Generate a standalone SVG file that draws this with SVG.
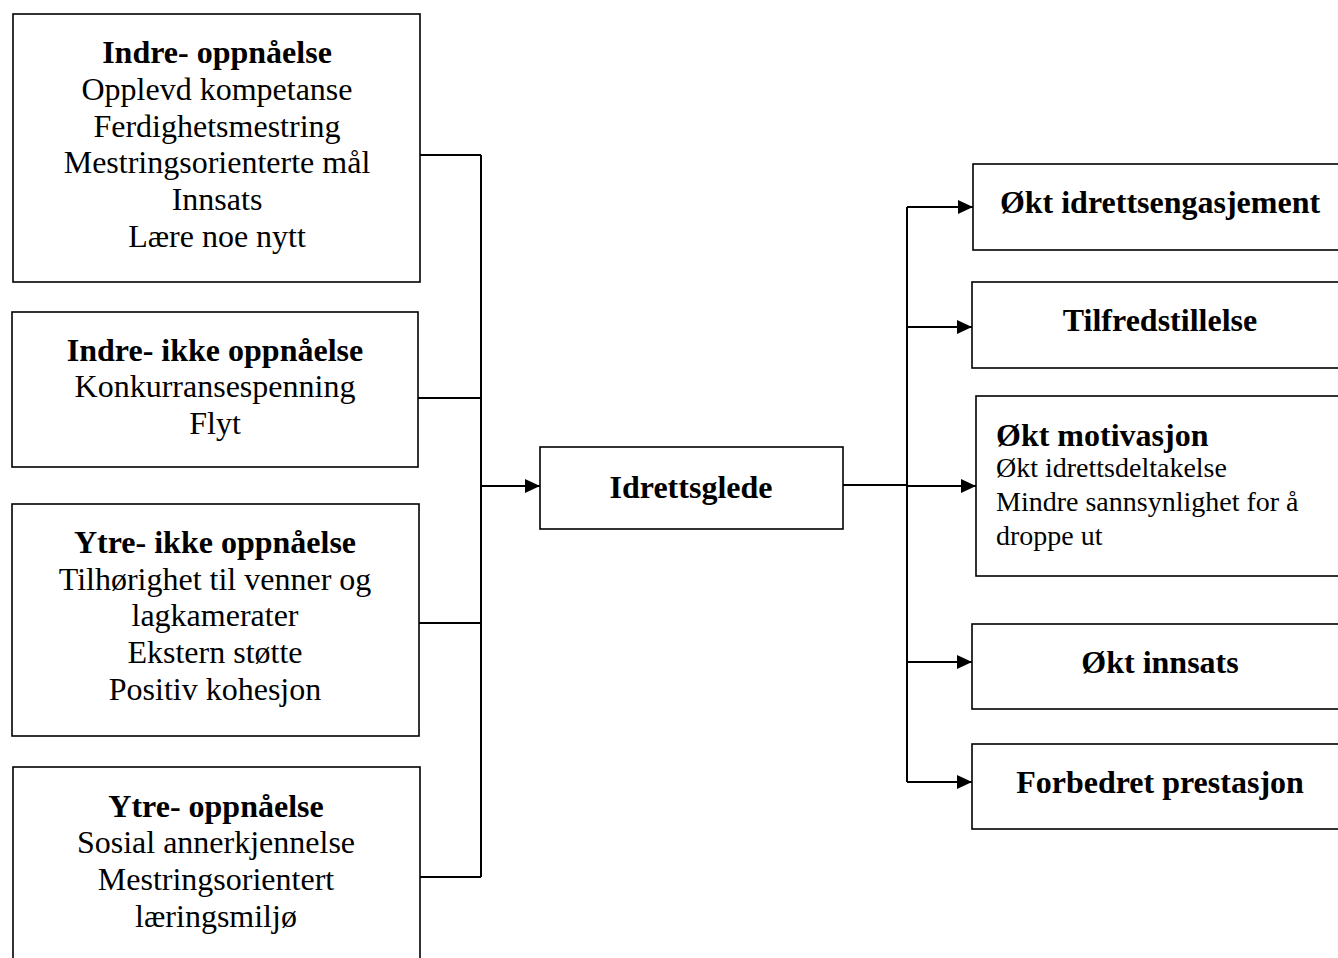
<svg xmlns="http://www.w3.org/2000/svg" width="1338" height="958" viewBox="0 0 1338 958">
<defs>
<style>
.box{fill:#fff;stroke:#000;stroke-width:1.6}
.t{font-family:"Liberation Serif","Times New Roman",serif;font-size:32px;fill:#000}
.b{font-weight:bold}
.c{text-anchor:middle}
.s{font-size:28px}
.ln{fill:none;stroke:#000;stroke-width:2}
</style>
<marker id="arr" markerUnits="userSpaceOnUse" markerWidth="15" markerHeight="14" refX="15" refY="7" orient="auto">
<path d="M0,0 L15,7 L0,14 z" fill="#000"/>
</marker>
</defs>
<rect width="1338" height="958" fill="#fff"/>

<g id="connectors">
<path class="ln" d="M420,155 H481 M418,398 H481 M419,623 H481 M420,877 H481 M481,155 V877"/>
<path class="ln" d="M481,486 H540" marker-end="url(#arr)"/>
<path class="ln" d="M843,485 H907" stroke-width="2.6"/>
<path class="ln" d="M907,207 V782"/>
<path class="ln" d="M907,207 H973" marker-end="url(#arr)"/>
<path class="ln" d="M907,327 H972" marker-end="url(#arr)"/>
<path class="ln" d="M907,486 H976" marker-end="url(#arr)"/>
<path class="ln" d="M907,662 H972" marker-end="url(#arr)"/>
<path class="ln" d="M907,782 H972" marker-end="url(#arr)"/>
</g>

<g id="indre-oppnaelse">
<rect class="box" x="13" y="14" width="407" height="268"/>
<text class="t c b" x="217" y="63">Indre- oppnåelse</text>
<text class="t c" x="217" y="100">Opplevd kompetanse</text>
<text class="t c" x="217" y="137">Ferdighetsmestring</text>
<text class="t c" x="217" y="173">Mestringsorienterte mål</text>
<text class="t c" x="217" y="210">Innsats</text>
<text class="t c" x="217" y="247">Lære noe nytt</text>
</g>

<g id="indre-ikke-oppnaelse">
<rect class="box" x="12" y="312" width="406" height="155"/>
<text class="t c b" x="215" y="361">Indre- ikke oppnåelse</text>
<text class="t c" x="215" y="397">Konkurransespenning</text>
<text class="t c" x="215" y="434">Flyt</text>
</g>

<g id="ytre-ikke-oppnaelse">
<rect class="box" x="12" y="504" width="407" height="232"/>
<text class="t c b" x="215" y="553">Ytre- ikke oppnåelse</text>
<text class="t c" x="215" y="590">Tilhørighet til venner og</text>
<text class="t c" x="215" y="626">lagkamerater</text>
<text class="t c" x="215" y="663">Ekstern støtte</text>
<text class="t c" x="215" y="700">Positiv kohesjon</text>
</g>

<g id="ytre-oppnaelse">
<rect class="box" x="13" y="767" width="407" height="200"/>
<text class="t c b" x="216" y="817">Ytre- oppnåelse</text>
<text class="t c" x="216" y="853">Sosial annerkjennelse</text>
<text class="t c" x="216" y="890">Mestringsorientert</text>
<text class="t c" x="216" y="927">læringsmiljø</text>
</g>

<g id="idrettsglede">
<rect class="box" x="540" y="447" width="303" height="82"/>
<text class="t c b" x="691" y="498">Idrettsglede</text>
</g>

<g id="okt-idrettsengasjement">
<rect class="box" x="973" y="164" width="375" height="86"/>
<text class="t c b" x="1160" y="213">Økt idrettsengasjement</text>
</g>

<g id="tilfredstillelse">
<rect class="box" x="972" y="282" width="376" height="86"/>
<text class="t c b" x="1160" y="331">Tilfredstillelse</text>
</g>

<g id="okt-motivasjon">
<rect class="box" x="976" y="396" width="372" height="180"/>
<text class="t b" x="996" y="446">Økt motivasjon</text>
<text class="t s" x="996" y="477">Økt idrettsdeltakelse</text>
<text class="t s" x="996" y="511">Mindre sannsynlighet for å</text>
<text class="t s" x="996" y="545">droppe ut</text>
</g>

<g id="okt-innsats">
<rect class="box" x="972" y="624" width="376" height="85"/>
<text class="t c b" x="1160" y="673">Økt innsats</text>
</g>

<g id="forbedret-prestasjon">
<rect class="box" x="972" y="744" width="376" height="85"/>
<text class="t c b" x="1160" y="793">Forbedret prestasjon</text>
</g>
</svg>
